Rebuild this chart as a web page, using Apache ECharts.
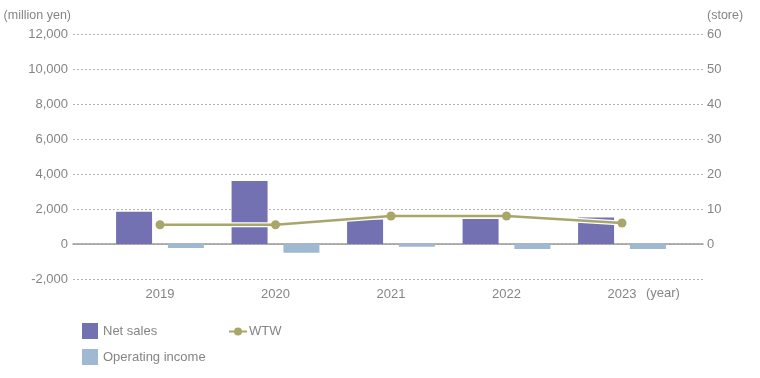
<!DOCTYPE html>
<html><head><meta charset="utf-8">
<script src="https://cdn.jsdelivr.net/npm/echarts@6/dist/echarts.min.js"></script>
<style>html,body{margin:0;padding:0;background:#fff}#c{width:760px;height:378px}</style>
</head><body><div id="c"></div>
<script>
var years = ['2019','2020','2021','2022','2023'];
var netSales = [1850, 3600, 1400, 1430, 1520];
var operatingIncome = [-230, -500, -150, -290, -280];
var wtw = [5.5, 5.5, 8, 8, 6];
var leftTicks = {min: -2000, max: 12000, interval: 2000};
var rightTicks = {min: -10, max: 60, interval: 10};

var FONT = 'Liberation Sans';
var TXT = '#858585';
var chart = echarts.init(document.getElementById('c'), null, {renderer: 'canvas'});
chart.setOption({
  animation: false,
  textStyle: {fontFamily: FONT},
  grid: [
    {left: 73, right: 57, top: 34, bottom: 99},
    {left: 102.25, right: 80.25, top: 34, bottom: 99}
  ],
  xAxis: [
    {gridIndex: 0, type: 'category', data: years, axisLabel: {show: false}, axisTick: {show: false},
     axisLine: {show: true, onZero: true, lineStyle: {color: '#999', width: 1.5}}},
    {gridIndex: 1, type: 'category', data: years, axisTick: {show: false}, axisLine: {show: false},
     axisLabel: {color: TXT, fontSize: 13, margin: 9, fontFamily: FONT}}
  ],
  yAxis: [
    {gridIndex: 0, type: 'value', min: leftTicks.min, max: leftTicks.max, interval: leftTicks.interval,
     name: '(million yen)', nameLocation: 'end', nameGap: 12,
     nameTextStyle: {color: TXT, fontSize: 12.5, align: 'right', padding: [0, 2, 0, 0], fontFamily: FONT},
     axisLine: {show: false}, axisTick: {show: false},
     axisLabel: {color: TXT, fontSize: 13, margin: 5, fontFamily: FONT,
       formatter: function (v) { return v.toLocaleString('en-US'); }},
     splitLine: {show: true, lineStyle: {color: '#b5b5b5', type: [2, 2], width: 1}}},
    {gridIndex: 0, type: 'value', position: 'right', min: rightTicks.min, max: rightTicks.max, interval: rightTicks.interval,
     name: '(store)', nameLocation: 'end', nameGap: 12,
     nameTextStyle: {color: TXT, fontSize: 12.5, align: 'left', padding: [0, 0, 0, 4], fontFamily: FONT},
     axisLine: {show: false}, axisTick: {show: false}, splitLine: {show: false},
     axisLabel: {color: TXT, fontSize: 13, margin: 4, fontFamily: FONT,
       formatter: function (v) { return v < 0 ? '' : String(v); }}},
    {gridIndex: 1, type: 'value', min: leftTicks.min, max: leftTicks.max, interval: leftTicks.interval, show: false},
    {gridIndex: 1, type: 'value', min: rightTicks.min, max: rightTicks.max, interval: rightTicks.interval, show: false}
  ],
  legend: [
    {data: [{name: 'Net sales', icon: 'rect'}], left: 77, top: 318, itemWidth: 16, itemHeight: 16, itemGap: 5,
     textStyle: {color: TXT, fontSize: 13, fontFamily: FONT}},
    {data: ['WTW'], left: 223, top: 320, itemWidth: 18, itemHeight: 10, textStyle: {color: TXT, fontSize: 13, fontFamily: FONT, padding: [0, 0, 0, -3]}},
    {data: [{name: 'Operating income', icon: 'rect'}], left: 77, top: 344, itemWidth: 16, itemHeight: 16,
     textStyle: {color: TXT, fontSize: 13, fontFamily: FONT}}
  ],
  graphic: [
    {type: 'text', left: 646, top: 287, style: {text: '(year)', fill: TXT, font: '13px "Liberation Sans"'}}
  ],
  series: [
    {name: 'Net sales', type: 'bar', xAxisIndex: 1, yAxisIndex: 2, data: netSales, barWidth: 36, barGap: '44%',
     itemStyle: {color: '#7471b3'}},
    {name: 'Operating income', type: 'bar', xAxisIndex: 1, yAxisIndex: 2, data: operatingIncome, barWidth: 36, barGap: '44%',
     itemStyle: {color: '#9eb9d1'}},
    {name: 'halo', type: 'line', xAxisIndex: 1, yAxisIndex: 3, data: wtw, symbol: 'none', silent: true,
     lineStyle: {color: '#fff', width: 5}, z: 3},
    {name: 'WTW', type: 'line', xAxisIndex: 1, yAxisIndex: 3, data: wtw, symbol: 'circle', symbolSize: 9,
     itemStyle: {color: '#a9a66a'}, lineStyle: {color: '#a9a66a', width: 2.5}, z: 4}
  ]
});
</script></body></html>
